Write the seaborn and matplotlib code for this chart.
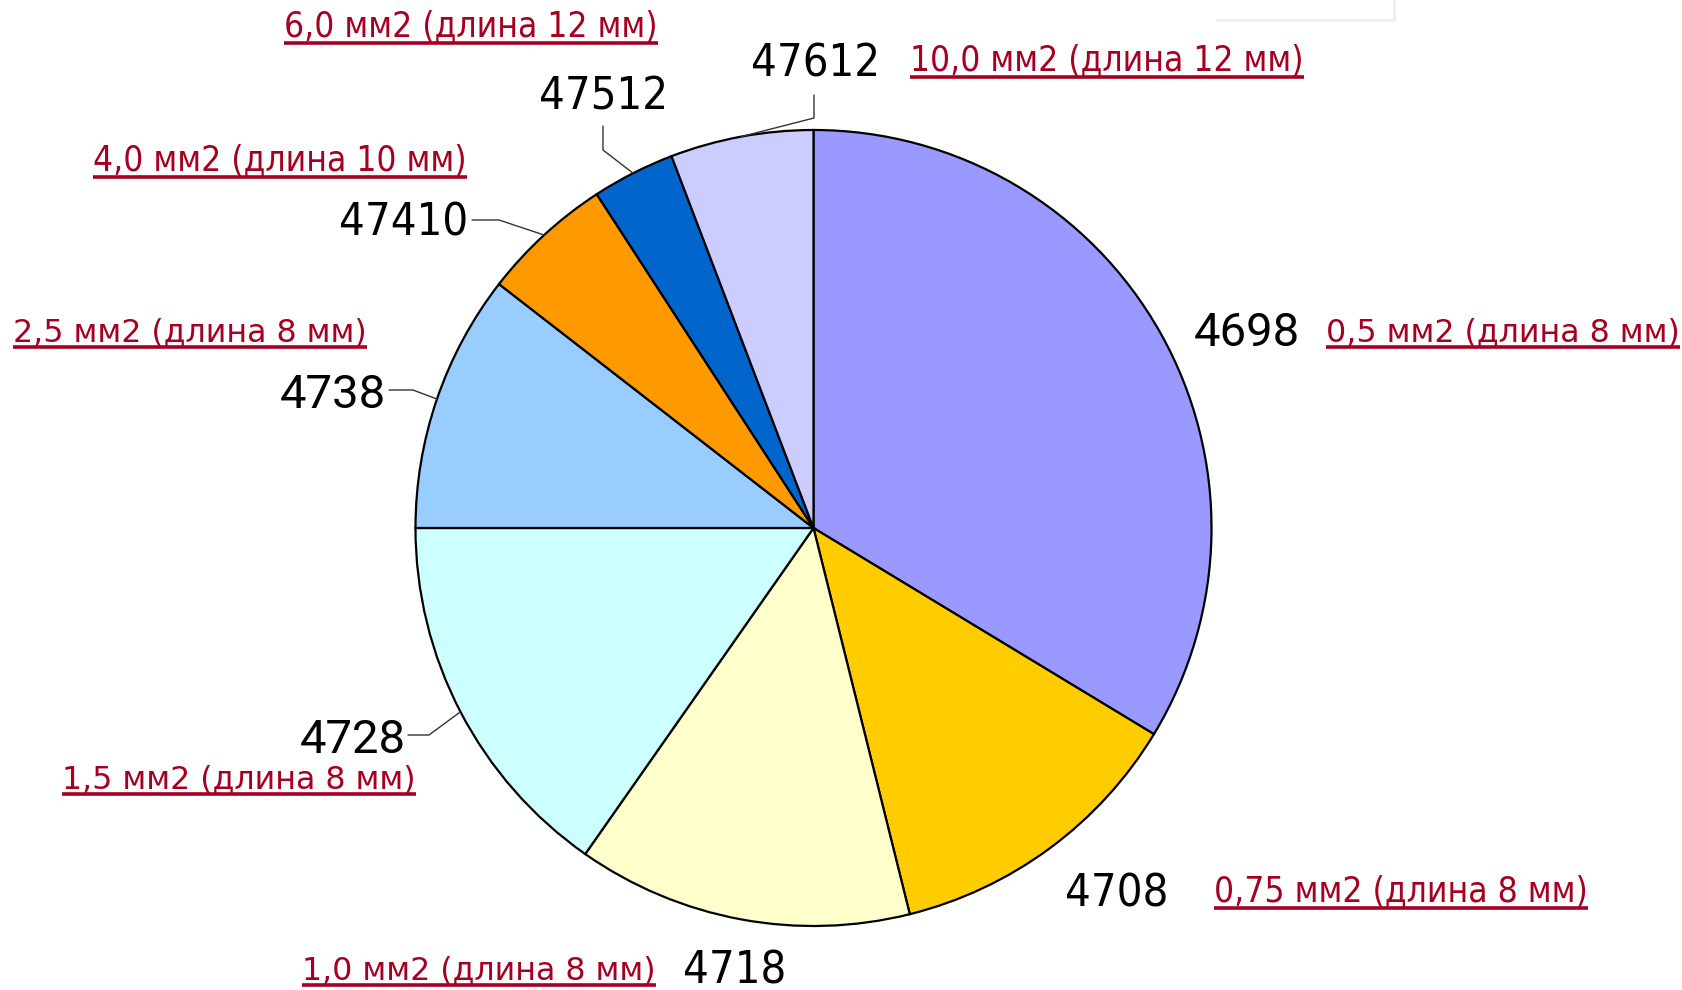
import numpy as np
import matplotlib
matplotlib.use("Agg")
import matplotlib.pyplot as plt
import seaborn as sns
from matplotlib.patches import Rectangle

sns.set_style("white")
plt.rcParams['font.family'] = ['DejaVu Sans']

# slice sizes (angles, degrees), clockwise from 12 o'clock
codes = ["4698", "4708", "4718", "4728", "4738", "47410", "47512", "47612"]
sizes = [121.2, 44.8, 49.0, 55.0, 37.8, 19.2, 12.1, 20.9]
colors = ["#9999ff", "#ffcc00", "#ffffcc", "#ccffff", "#99ccff", "#ff9900", "#0066cc", "#ccccff"]
captions = ["0,5 мм2 (длина 8 мм)", "0,75 мм2 (длина 8 мм)", "1,0 мм2 (длина 8 мм)",
            "1,5 мм2 (длина 8 мм)", "2,5 мм2 (длина 8 мм)", "4,0 мм2 (длина 10 мм)",
            "6,0 мм2 (длина 12 мм)", "10,0 мм2 (длина 12 мм)"]

W, H = 1683, 990
RED = "#a50021"


def Y(y):
    return H - y


fig = plt.figure(figsize=(W / 100, H / 100), dpi=100)
ax = fig.add_axes([0, 0, 1, 1])

cx, cy, R = 813.5, 528, 398
wedges, _ = ax.pie(sizes, colors=colors, startangle=90, counterclock=False,
                   center=(cx, Y(cy)), radius=R, frame=True,
                   wedgeprops=dict(edgecolor="black", linewidth=1.6))
ax.set_xlim(0, W)
ax.set_ylim(0, H)
ax.set_aspect("equal")
ax.axis("off")

# number labels: (x, y) center in pixel coords, condensed?
num_pos = {
    "4698": (1247, 333, False), "4708": (1117, 894, True), "4718": (735, 971, True),
    "4728": (353, 740, False), "4738": (333, 395, False), "47410": (404, 223, True),
    "47512": (604, 97, True), "47612": (816, 64, True),
}
for c in codes:
    x, y, cond = num_pos[c]
    if cond:
        ax.text(x, Y(y), c, ha="center", va="center", fontsize=32.5,
                fontstretch="condensed", family=["DejaVu Sans"], color="black")
    else:
        ax.text(x, Y(y), c, ha="center", va="center", fontsize=34,
                family=["Roboto", "DejaVu Sans"], color="black")

# leader lines: text side points, end on wedge edge at mid angle
leaders = {
    "47612": [(814, 95), (814, 118)],
    "47512": [(603, 126), (603, 150)],
    "47410": [(472, 220), (499, 220)],
    "4738": [(389, 390), (413, 390)],
    "4728": [(408, 735), (429, 735)],
}
for w, c in zip(wedges, codes):
    if c not in leaders:
        continue
    mid = np.deg2rad((w.theta1 + w.theta2) / 2)
    ex, ey = cx + R * np.cos(mid), Y(cy) + R * np.sin(mid)
    pts = leaders[c]
    xs = [p[0] for p in pts] + [ex]
    ys = [Y(p[1]) for p in pts] + [ey]
    ax.plot(xs, ys, color="#333333", lw=1.0)

# red underlined captions: left x, underline y, condensed?
cap_pos = {
    "0,5 мм2 (длина 8 мм)": (1326, 347, False),
    "0,75 мм2 (длина 8 мм)": (1214, 908, True),
    "1,0 мм2 (длина 8 мм)": (302, 985, False),
    "1,5 мм2 (длина 8 мм)": (62, 794, False),
    "2,5 мм2 (длина 8 мм)": (13, 347, False),
    "4,0 мм2 (длина 10 мм)": (93, 177, True),
    "6,0 мм2 (длина 12 мм)": (284, 43, True),
    "10,0 мм2 (длина 12 мм)": (910, 77, True),
}
texts = []
for cap in captions:
    x, uy, cond = cap_pos[cap]
    kw = dict(fontstretch="condensed", fontsize=25.3) if cond else dict(fontsize=22.8)
    t = ax.text(x, Y(uy - 6), cap, ha="left", va="baseline", color=RED,
                family=["DejaVu Sans"], **kw)
    texts.append((t, uy))

fig.canvas.draw()
inv = ax.transData.inverted()
for t, uy in texts:
    bb = t.get_window_extent()
    x0 = inv.transform((bb.x0, 0))[0]
    x1 = inv.transform((bb.x1, 0))[0]
    ax.plot([x0, x1], [Y(uy), Y(uy)], color=RED, lw=2.6, solid_capstyle="butt")

# faint popup box at the top
ax.add_patch(Rectangle((1216, Y(22)), 180, 22, facecolor="#e8e8e8", edgecolor="none", alpha=0.6))
ax.add_patch(Rectangle((1213, Y(19)), 180, 19, facecolor="white", edgecolor="none"))

fig.savefig("out.png", dpi=100, facecolor="white")
